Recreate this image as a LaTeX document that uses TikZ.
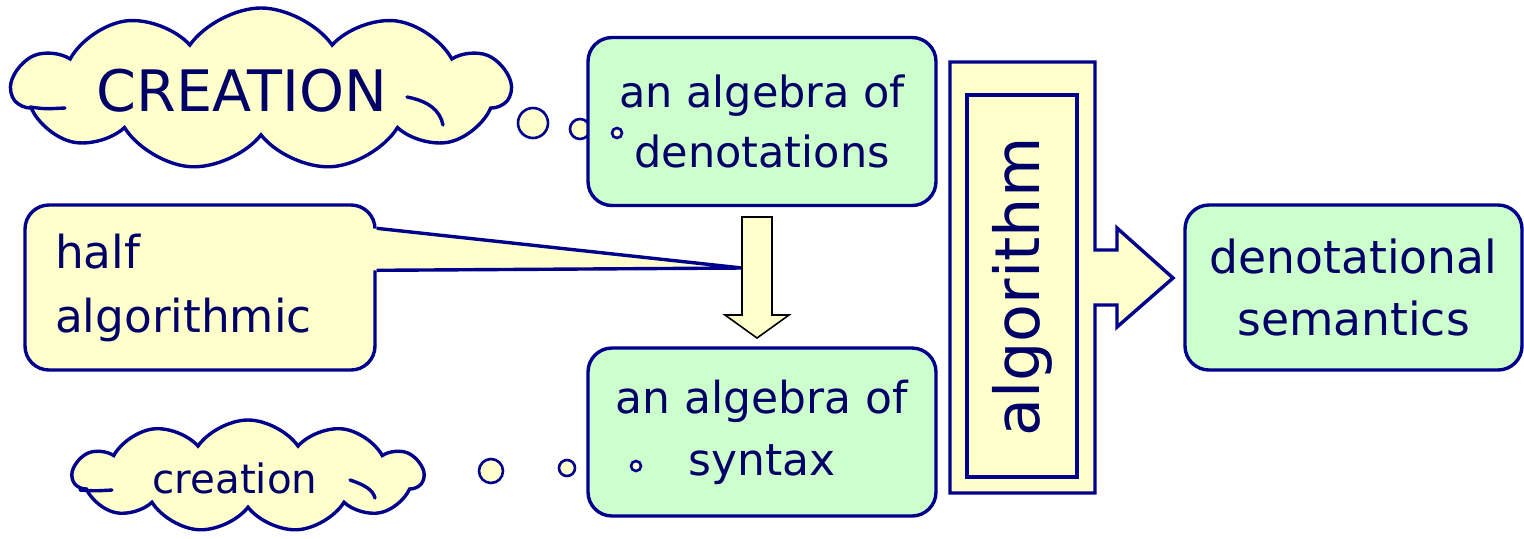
\documentclass[tikz,border=0pt]{standalone}
\usepackage{fontspec}
\setmainfont{DejaVu Sans}
\usetikzlibrary{shapes.symbols,calc}
\definecolor{linenavy}{RGB}{0,0,140}
\definecolor{textnavy}{RGB}{0,0,102}
\definecolor{paleyellow}{RGB}{255,255,204}
\definecolor{palegreen}{RGB}{204,255,204}

\begin{document}
\begin{tikzpicture}[x=0.5pt, y=-0.5pt,
	every node/.style={text=textnavy},
	outline/.style={draw=linenavy, line width=1.7pt},
	greenbox/.style={outline, fill=palegreen, rounded corners=12pt, align=center,
		minimum width=174pt, minimum height=84pt, font=\fontsize{21.5}{30}\selectfont},
	yellowbox/.style={outline, fill=paleyellow, rounded corners=12pt, align=left,
		minimum width=175pt, minimum height=82.5pt, text width=145pt, inner xsep=15pt,
		font=\fontsize{22.7}{32}\selectfont},
	thought/.style={outline, fill=paleyellow, cloud, cloud puffs=11, cloud puff arc=110,
		inner sep=0pt},
	bubble/.style={draw=linenavy, line width=1.3pt, fill=paleyellow},
	blockarrow/.style={draw=black, line width=0.8pt, fill=paleyellow}]
	\useasboundingbox (0,0) rectangle (1524,538);

	% clouds
	\node[thought, minimum width=249pt, minimum height=81pt] (bigcloud) at (261,89) {};
	\draw[outline, line cap=round] (407,97) .. controls (428,101) and (440,110) .. (443,125);
	\draw[outline, line cap=round] (30,107) .. controls (45,109) .. (65,108);
	\node[font=\fontsize{28.6}{34}\selectfont] (bigword) at ($(bigcloud.center)+(-19,2)$) {CREATION};
	\node[thought, minimum width=175pt, minimum height=56pt] (smallcloud) at (248,476) {};
	\draw[outline, line cap=round] (350,480) .. controls (365,485) and (373,490) .. (375,498);
	\draw[outline, line cap=round] (80,490) .. controls (95,491) .. (112,490);
	\node[font=\fontsize{20.2}{24}\selectfont] (smallword) at ($(smallcloud.center)+(-13,2)$) {creation};

	\draw[bubble] (533,123) circle (7.5pt);
	\draw[bubble] (580,129) circle (5pt);
	\draw[bubble] (491,471) circle (6pt);
	\draw[bubble] (567,468) circle (4pt);

	% boxes
	\node[greenbox] (denot) at (762,121.5) {an algebra of\\denotations};
	\node[greenbox, font=\fontsize{22}{31}\selectfont] (syntax) at (762,432) {an algebra of\\syntax};
	\node[greenbox, minimum width=168.5pt, minimum height=82.5pt,
		font=\fontsize{22.8}{31}\selectfont] (semantics) at (1353.5,287.5) {denotational\\semantics};
	\draw[bubble] (617,133) circle (2.5pt);
	\draw[bubble] (636,466) circle (2.5pt);

	% callout
	\node[yellowbox] (half) at (200,287.5) {half\\algorithmic};
	\coordinate (tip) at (742,268);
	\fill[paleyellow] ($(half.north east)+(-5,25)$) -- (tip) -- ($(half.north east)+(-5,67)$) -- cycle;
	\draw[outline] ($(half.north east)+(0,25)$) -- (tip) -- ($(half.north east)+(0,67)$);

	% down arrow
	\draw[blockarrow] (742,217) -- (772,217) -- (772,315) -- (789,315) -- (757,338)
		-- (725,315) -- (742,315) -- cycle;

	% algorithm arrow
	\draw[outline, fill=paleyellow, line join=miter] (950,62) -- (1095,62) -- (1095,250) -- (1117,250)
		-- (1117,228) -- (1173,278) -- (1117,327) -- (1117,305) -- (1095,305)
		-- (1095,493) -- (950,493) -- cycle;
	\draw[outline] (967,95) rectangle (1077,477);
	\node[rotate=90, font=\fontsize{31}{36}\selectfont] (algword) at (1022,287) {algorithm};
\end{tikzpicture}
\end{document}
